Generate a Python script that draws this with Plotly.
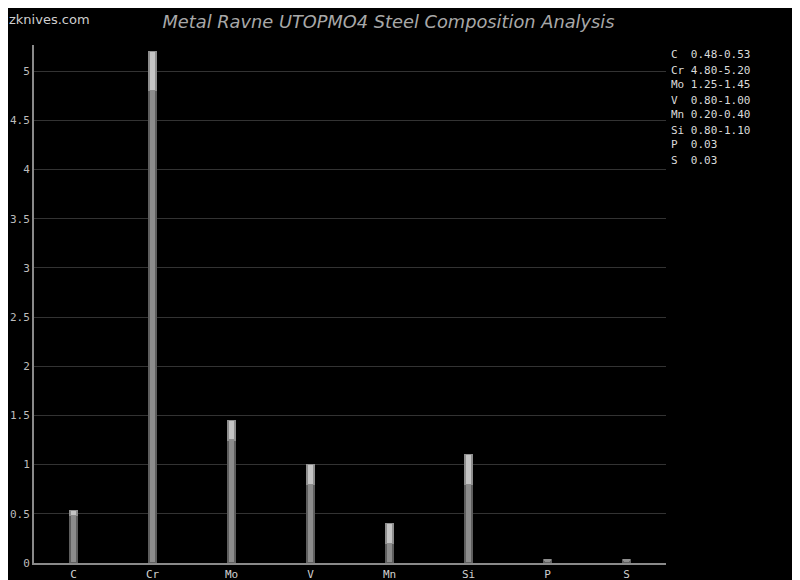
import plotly.graph_objects as go

elements = ["C", "Cr", "Mo", "V", "Mn", "Si", "P", "S"]
min_vals = [0.48, 4.80, 1.25, 0.80, 0.20, 0.80, 0.03, 0.03]
max_vals = [0.53, 5.20, 1.45, 1.00, 0.40, 1.10, 0.03, 0.03]
range_labels = ["0.48-0.53", "4.80-5.20", "1.25-1.45", "0.80-1.00",
                "0.20-0.40", "0.80-1.10", "0.03", "0.03"]

extra = [mx - mn for mn, mx in zip(min_vals, max_vals)]

# page body has an 8px margin, so the figure is sized 792x572 and offset
W, H = 792, 572
OFF = 8

fig = go.Figure()
fig.add_trace(go.Bar(x=elements, y=min_vals, width=0.09,
                     marker=dict(color="#8c8c8c", line=dict(color="#5e5e5e", width=1.2)),
                     showlegend=False, hoverinfo="skip"))
fig.add_trace(go.Bar(x=elements, y=extra, width=0.09,
                     marker=dict(color="#c4c4c4", line=dict(color="#8e8e8e", width=1.2)),
                     showlegend=False, hoverinfo="skip"))

mono = "DejaVu Sans Mono"
annotations = []
left_px, right_px, top_px, bottom_px = 34, 666, 45, 563
pw = right_px - left_px
ph = bottom_px - top_px
for i, (el, lab) in enumerate(zip(elements, range_labels)):
    ypix = 55 + 15 * i
    txt = el.ljust(3, "\u00a0") + lab
    annotations.append(dict(
        xref="paper", yref="paper", x=(669 - left_px) / pw, y=(bottom_px - ypix) / ph,
        xanchor="left", yanchor="middle", showarrow=False,
        text=txt.replace(" ", "\u00a0"), font=dict(family=mono, size=11, color="#dadada")))

annotations.append(dict(
    xref="paper", yref="paper", x=(7 - left_px) / pw, y=(bottom_px - 19) / ph,
    xanchor="left", yanchor="middle", showarrow=False,
    text="zknives.com", font=dict(family="DejaVu Sans", size=13, color="#cfcfcf")))

fig.update_layout(
    barmode="stack",
    width=W, height=H,
    paper_bgcolor="#000000", plot_bgcolor="#000000",
    margin=dict(l=left_px - OFF, r=800 - right_px, t=top_px - OFF, b=580 - bottom_px,
                autoexpand=False),
    title=dict(text="<i>Metal Ravne UTOPMO4 Steel Composition Analysis</i>",
               x=(388.5 - OFF) / W, xanchor="center", y=1 - (21.5 - OFF) / H, yanchor="middle",
               font=dict(family="DejaVu Sans", size=17.8, color="#a8a8a8")),
    annotations=annotations,
)
fig.update_xaxes(showgrid=False, showline=True, linecolor="#8a8a8a", linewidth=2,
                 ticks="", automargin=False,
                 tickfont=dict(family=mono, size=11, color="#d0d0d0"),
                 zeroline=False)
fig.update_yaxes(range=[0, 5.265], showgrid=True, gridcolor="#333333", gridwidth=1,
                 showline=True, linecolor="#8a8a8a", linewidth=2, automargin=False,
                 tickvals=[0, 0.5, 1, 1.5, 2, 2.5, 3, 3.5, 4, 4.5, 5],
                 ticktext=["0", "0.5", "1", "1.5", "2", "2.5", "3", "3.5", "4", "4.5", "5"],
                 ticks="", ticklen=0,
                 tickfont=dict(family=mono, size=11, color="#bdbdbd"), zeroline=False)

fig.write_html("out.html")
